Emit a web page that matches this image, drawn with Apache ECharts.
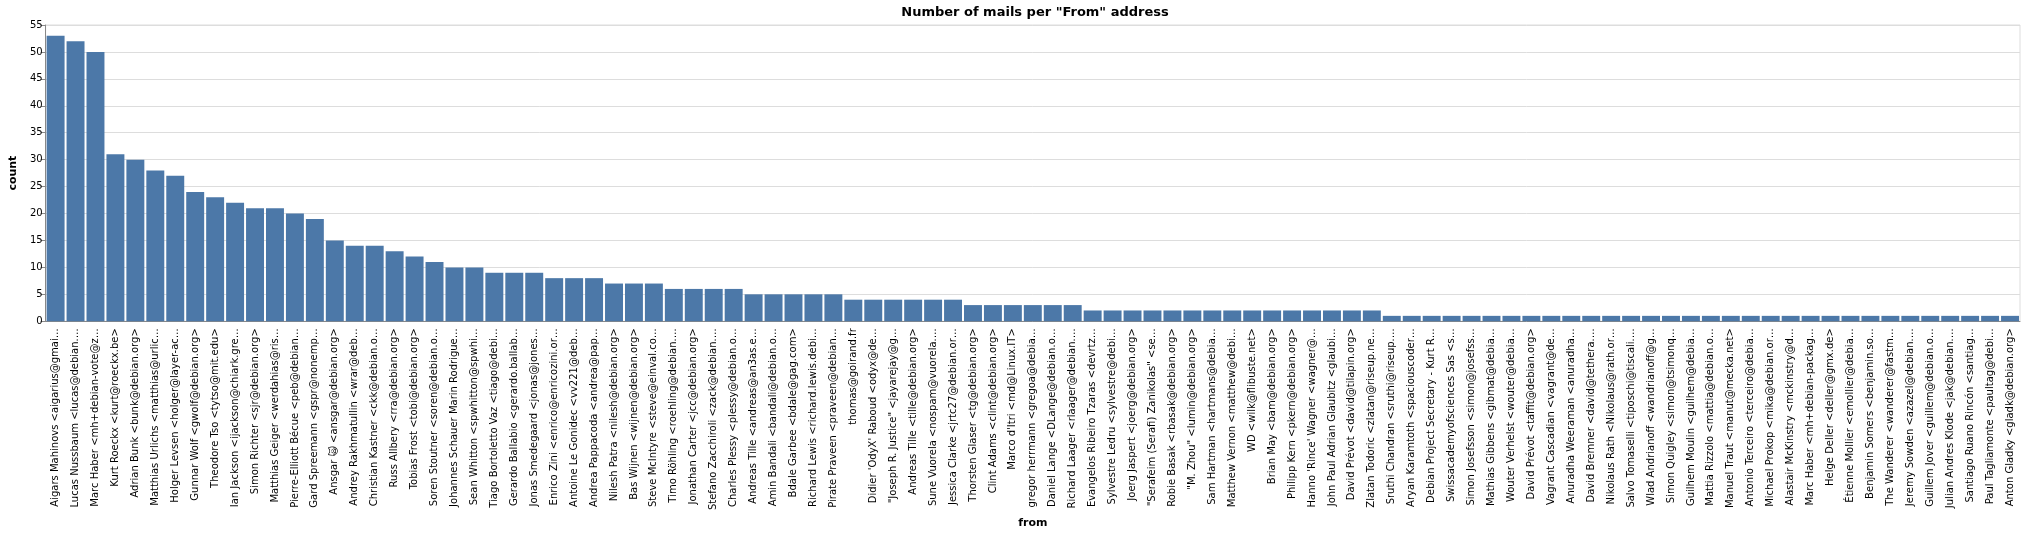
<!DOCTYPE html>
<html>
<head>
<meta charset="utf-8">
<script src="https://cdn.jsdelivr.net/npm/echarts@6/dist/echarts.min.js"></script>
<style>
  html, body { margin: 0; padding: 0; background: #fff; }
  #chart { width: 2025px; height: 534px; }
</style>
</head>
<body>
<div id="chart"></div>
<script>
var senders = [
  'Aigars Mahinovs <aigarius@gmai…', 'Lucas Nussbaum <lucas@debian.…', 'Marc Haber <mh+debian-vote@z…',
  'Kurt Roeckx <kurt@roeckx.be>', 'Adrian Bunk <bunk@debian.org>', 'Matthias Urlichs <matthias@urlic…',
  'Holger Levsen <holger@layer-ac…', 'Gunnar Wolf <gwolf@debian.org>', 'Theodore Tso <tytso@mit.edu>',
  'Ian Jackson <ijackson@chiark.gre…', 'Simon Richter <sjr@debian.org>', 'Matthias Geiger <werdahias@ris…',
  'Pierre-Elliott Bécue <peb@debian…', 'Gard Spreemann <gspr@nonemp…', 'Ansgar 🙀 <ansgar@debian.org>',
  'Andrey Rakhmatullin <wrar@deb…', 'Christian Kastner <ckk@debian.o…', 'Russ Allbery <rra@debian.org>',
  'Tobias Frost <tobi@debian.org>', 'Soren Stoutner <soren@debian.o…', 'Johannes Schauer Marin Rodrigue…',
  'Sean Whitton <spwhitton@spwhi…', 'Tiago Bortoletto Vaz <tiago@debi…', 'Gerardo Ballabio <gerardo.ballab…',
  'Jonas Smedegaard <jonas@jones…', 'Enrico Zini <enrico@enricozini.or…', 'Antoine Le Gonidec <vv221@deb…',
  'Andrea Pappacoda <andrea@pap…', 'Nilesh Patra <nilesh@debian.org>', 'Bas Wijnen <wijnen@debian.org>',
  'Steve McIntyre <steve@einval.co…', 'Timo Röhling <roehling@debian.…', 'Jonathan Carter <jcc@debian.org>',
  'Stefano Zacchiroli <zack@debian.…', 'Charles Plessy <plessy@debian.o…', 'Andreas Tille <andreas@an3as.e…',
  'Amin Bandali <bandali@debian.o…', 'Bdale Garbee <bdale@gag.com>', 'Richard Lewis <richard.lewis.debi…',
  'Pirate Praveen <praveen@debian…', 'thomas@goirand.fr', 'Didier \'OdyX\' Raboud <odyx@de…',
  '"Joseph R. Justice" <jayarejay@g…', 'Andreas Tille <tille@debian.org>', 'Sune Vuorela <nospam@vuorela.…',
  'Jessica Clarke <jrtc27@debian.or…', 'Thorsten Glaser <tg@debian.org>', 'Clint Adams <clint@debian.org>',
  'Marco d\'Itri <md@Linux.IT>', 'gregor herrmann <gregoa@debia…', 'Daniel Lange <DLange@debian.o…',
  'Richard Laager <rlaager@debian.…', 'Evangelos Ribeiro Tzaras <devrtz…', 'Sylvestre Ledru <sylvestre@debi…',
  'Joerg Jaspert <joerg@debian.org>', '"Serafeim (Serafi) Zanikolas" <se…', 'Robie Basak <rbasak@debian.org>',
  '"M. Zhou" <lumin@debian.org>', 'Sam Hartman <hartmans@debia…', 'Matthew Vernon <matthew@debi…',
  'WD <wilk@flibuste.net>', 'Brian May <bam@debian.org>', 'Philipp Kern <pkern@debian.org>',
  'Hanno \'Rince\' Wagner <wagner@…', 'John Paul Adrian Glaubitz <glaubi…', 'David Prévot <david@tilapin.org>',
  'Zlatan Todoric <zlatan@riseup.ne…', 'Sruthi Chandran <sruthi@riseup.…', 'Aryan Karamtoth <spaciouscoder…',
  'Debian Project Secretary - Kurt R…', 'Swissacademyofsciences Sas <s…', 'Simon Josefsson <simon@josefss…',
  'Mathias Gibbens <gibmat@debia…', 'Wouter Verhelst <wouter@debia…', 'David Prévot <taffit@debian.org>',
  'Vagrant Cascadian <vagrant@de…', 'Anuradha Weeraman <anuradha…', 'David Bremner <david@tethera.…',
  'Nikolaus Rath <Nikolaus@rath.or…', 'Salvo Tomaselli <tiposchi@tiscali.…', 'Wlad Andrianoff <wandrianoff@g…',
  'Simon Quigley <simon@tsimonq…', 'Guilhem Moulin <guilhem@debia…', 'Mattia Rizzolo <mattia@debian.o…',
  'Manuel Traut <manut@mecka.net>', 'Antonio Terceiro <terceiro@debia…', 'Michael Prokop <mika@debian.or…',
  'Alastair McKinstry <mckinstry@d…', 'Marc Haber <mh+debian-packag…', 'Helge Deller <deller@gmx.de>',
  'Étienne Mollier <emollier@debia…', 'Benjamin Somers <benjamin.so…', 'The Wanderer <wanderer@fastm…',
  'Jeremy Sowden <azazel@debian.…', 'Guillem Jover <guillem@debian.o…', 'Julian Andres Klode <jak@debian.…',
  'Santiago Ruano Rincón <santiag…', 'Paul Tagliamonte <paultag@debi…', 'Anton Gladky <gladk@debian.org>'
];

var mailCounts = [
  53, 52, 50, 31, 30, 28, 27, 24, 23, 22, 21, 21, 20, 19, 15, 14, 14, 13, 12, 11,
  10, 10, 9, 9, 9, 8, 8, 8, 7, 7, 7, 6, 6, 6, 6, 5, 5, 5, 5, 5,
  4, 4, 4, 4, 4, 4, 3, 3, 3, 3, 3, 3, 2, 2, 2, 2, 2, 2, 2, 2,
  2, 2, 2, 2, 2, 2, 2, 1, 1, 1, 1, 1, 1, 1, 1, 1, 1, 1, 1, 1,
  1, 1, 1, 1, 1, 1, 1, 1, 1, 1, 1, 1, 1, 1, 1, 1, 1, 1, 1
];

var countTicks = [0, 5, 10, 15, 20, 25, 30, 35, 40, 45, 50, 55];

var chartDom = document.getElementById('chart');
var myChart = echarts.init(chartDom, null, {renderer: 'canvas'});
var font = 'DejaVu Sans, sans-serif';
var option = {
  animation: false,
  textStyle: {fontFamily: font},
  title: {
    text: 'Number of mails per "From" address',
    left: 1030,
    textAlign: 'center',
    top: 1,
    textStyle: {fontSize: 13, fontWeight: 'bold', color: '#000', fontFamily: font}
  },
  grid: {
    left: 40,
    right: 5,
    top: 25,
    bottom: 207,
    show: true,
    borderColor: '#ddd',
    borderWidth: 1
  },
  xAxis: {
    type: 'category',
    data: senders,
    name: 'from',
    nameLocation: 'middle',
    nameGap: 195,
    nameTextStyle: {fontSize: 11, fontWeight: 'bold', color: '#000', fontFamily: font},
    axisLine: {lineStyle: {color: '#888'}},
    axisTick: {alignWithLabel: true, interval: 0, length: 5, lineStyle: {color: '#888'}},
    axisLabel: {
      interval: 0,
      rotate: 90,
      fontSize: 10,
      color: '#000',
      margin: 7,
      fontFamily: font
    }
  },
  yAxis: {
    type: 'value',
    min: countTicks[0],
    max: countTicks[countTicks.length - 1],
    interval: 5,
    name: 'count',
    nameLocation: 'middle',
    nameGap: 26,
    nameTextStyle: {fontSize: 11, fontWeight: 'bold', color: '#000', fontFamily: font},
    axisLine: {show: true, lineStyle: {color: '#888'}},
    axisTick: {show: true, length: 5, lineStyle: {color: '#888'}},
    axisLabel: {fontSize: 10, color: '#000', margin: 3, fontFamily: font},
    splitLine: {lineStyle: {color: '#ddd'}}
  },
  series: [
    {
      name: 'count',
      type: 'bar',
      data: mailCounts,
      barCategoryGap: '10%',
      itemStyle: {color: '#4c78a8'}
    }
  ]
};
option && myChart.setOption(option);
</script>
</body>
</html>
